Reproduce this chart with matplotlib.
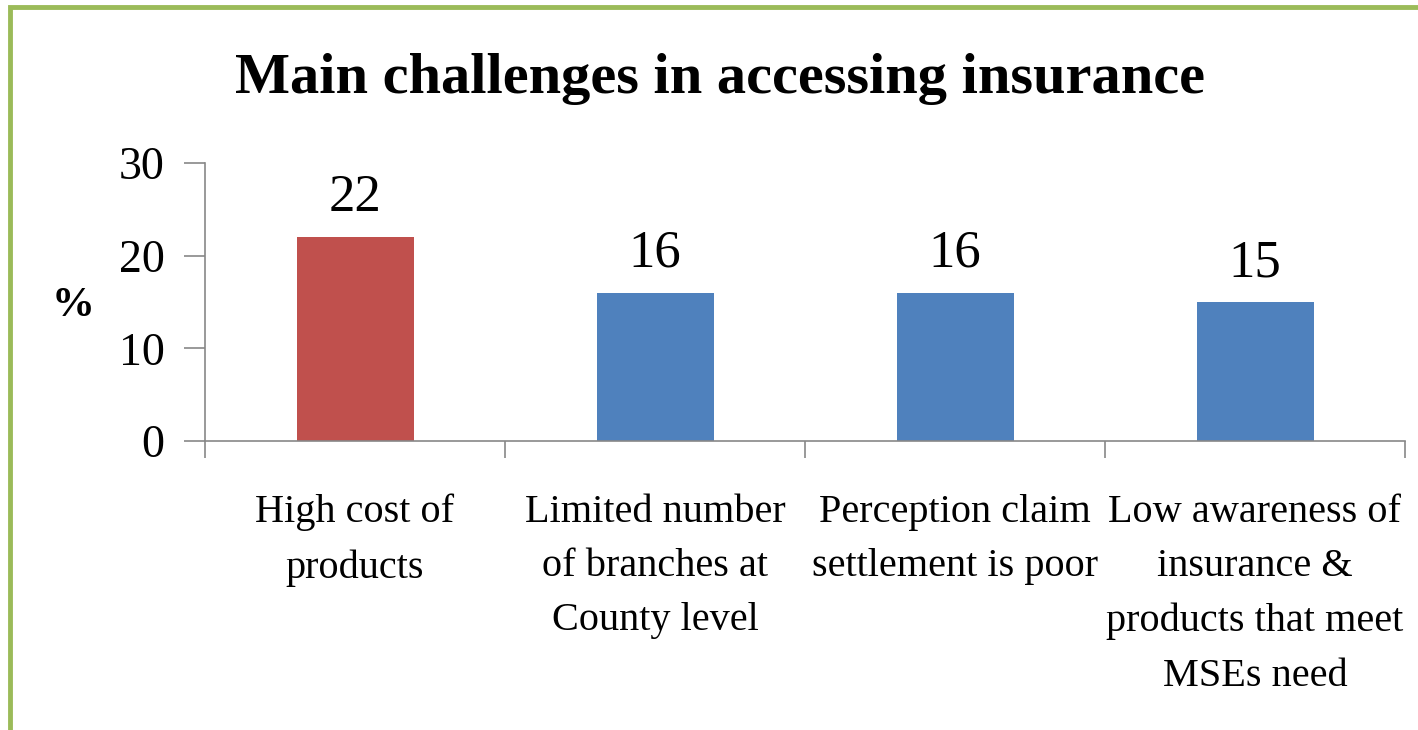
import matplotlib.pyplot as plt
from matplotlib.patches import Rectangle

categories = ['High cost of\nproducts',
              'Limited number\nof branches at\nCounty level',
              'Perception claim\nsettlement is poor',
              'Low awareness of\ninsurance &\nproducts that meet\nMSEs need']
values = [22, 16, 16, 15]
colors = ['#C0504D', '#4F81BD', '#4F81BD', '#4F81BD']

plt.rcParams['font.family'] = ['Liberation Serif', 'DejaVu Serif']

fig = plt.figure(figsize=(14.18, 7.30), dpi=100)
ax = fig.add_axes([205 / 1418, 1 - 441 / 730, 1200 / 1418, 278 / 730])

x = range(len(values))
ax.bar(x, values, width=0.39, color=colors, zorder=2)
for i, v in enumerate(values):
    ax.text(i, v + 1.6, str(v), ha='center', va='bottom', fontsize=38)

ax.set_xlim(-0.5, len(values) - 0.5)
ax.set_ylim(0, 30)
ax.set_yticks([0, 10, 20, 30])
ax.tick_params(axis='y', labelsize=33, length=15, width=1.2, color='#878787', pad=14)
ax.set_xticks([i - 0.5 for i in range(len(values) + 1)], minor=False)
ax.set_xticklabels([])
ax.tick_params(axis='x', length=12, width=1.2, color='#878787')
ax.set_xticks(list(x), minor=True)
ax.set_xticklabels(categories, minor=True, fontsize=29, linespacing=1.62)
ax.tick_params(axis='x', which='minor', length=0, pad=38)

for s in ['top', 'right']:
    ax.spines[s].set_visible(False)
for s in ['left', 'bottom']:
    ax.spines[s].set_color('#878787')
    ax.spines[s].set_linewidth(1.2)

ax.set_ylabel('%', fontsize=31, fontweight='bold', rotation=0, va='center', ha='center')
ax.yaxis.set_label_coords(-0.11, 0.486)

fig.text(720 / 1418, 1 - 79 / 730, 'Main challenges in accessing insurance',
         ha='center', va='center', fontsize=42, fontweight='bold')

fig.patches.append(Rectangle((10 / 1418, -0.1), 1.2, 1 - 7 / 730 + 0.1, transform=fig.transFigure,
                             fill=False, edgecolor='#9BBB59', linewidth=3.5, zorder=0))

fig.savefig('out.png', dpi=100)
